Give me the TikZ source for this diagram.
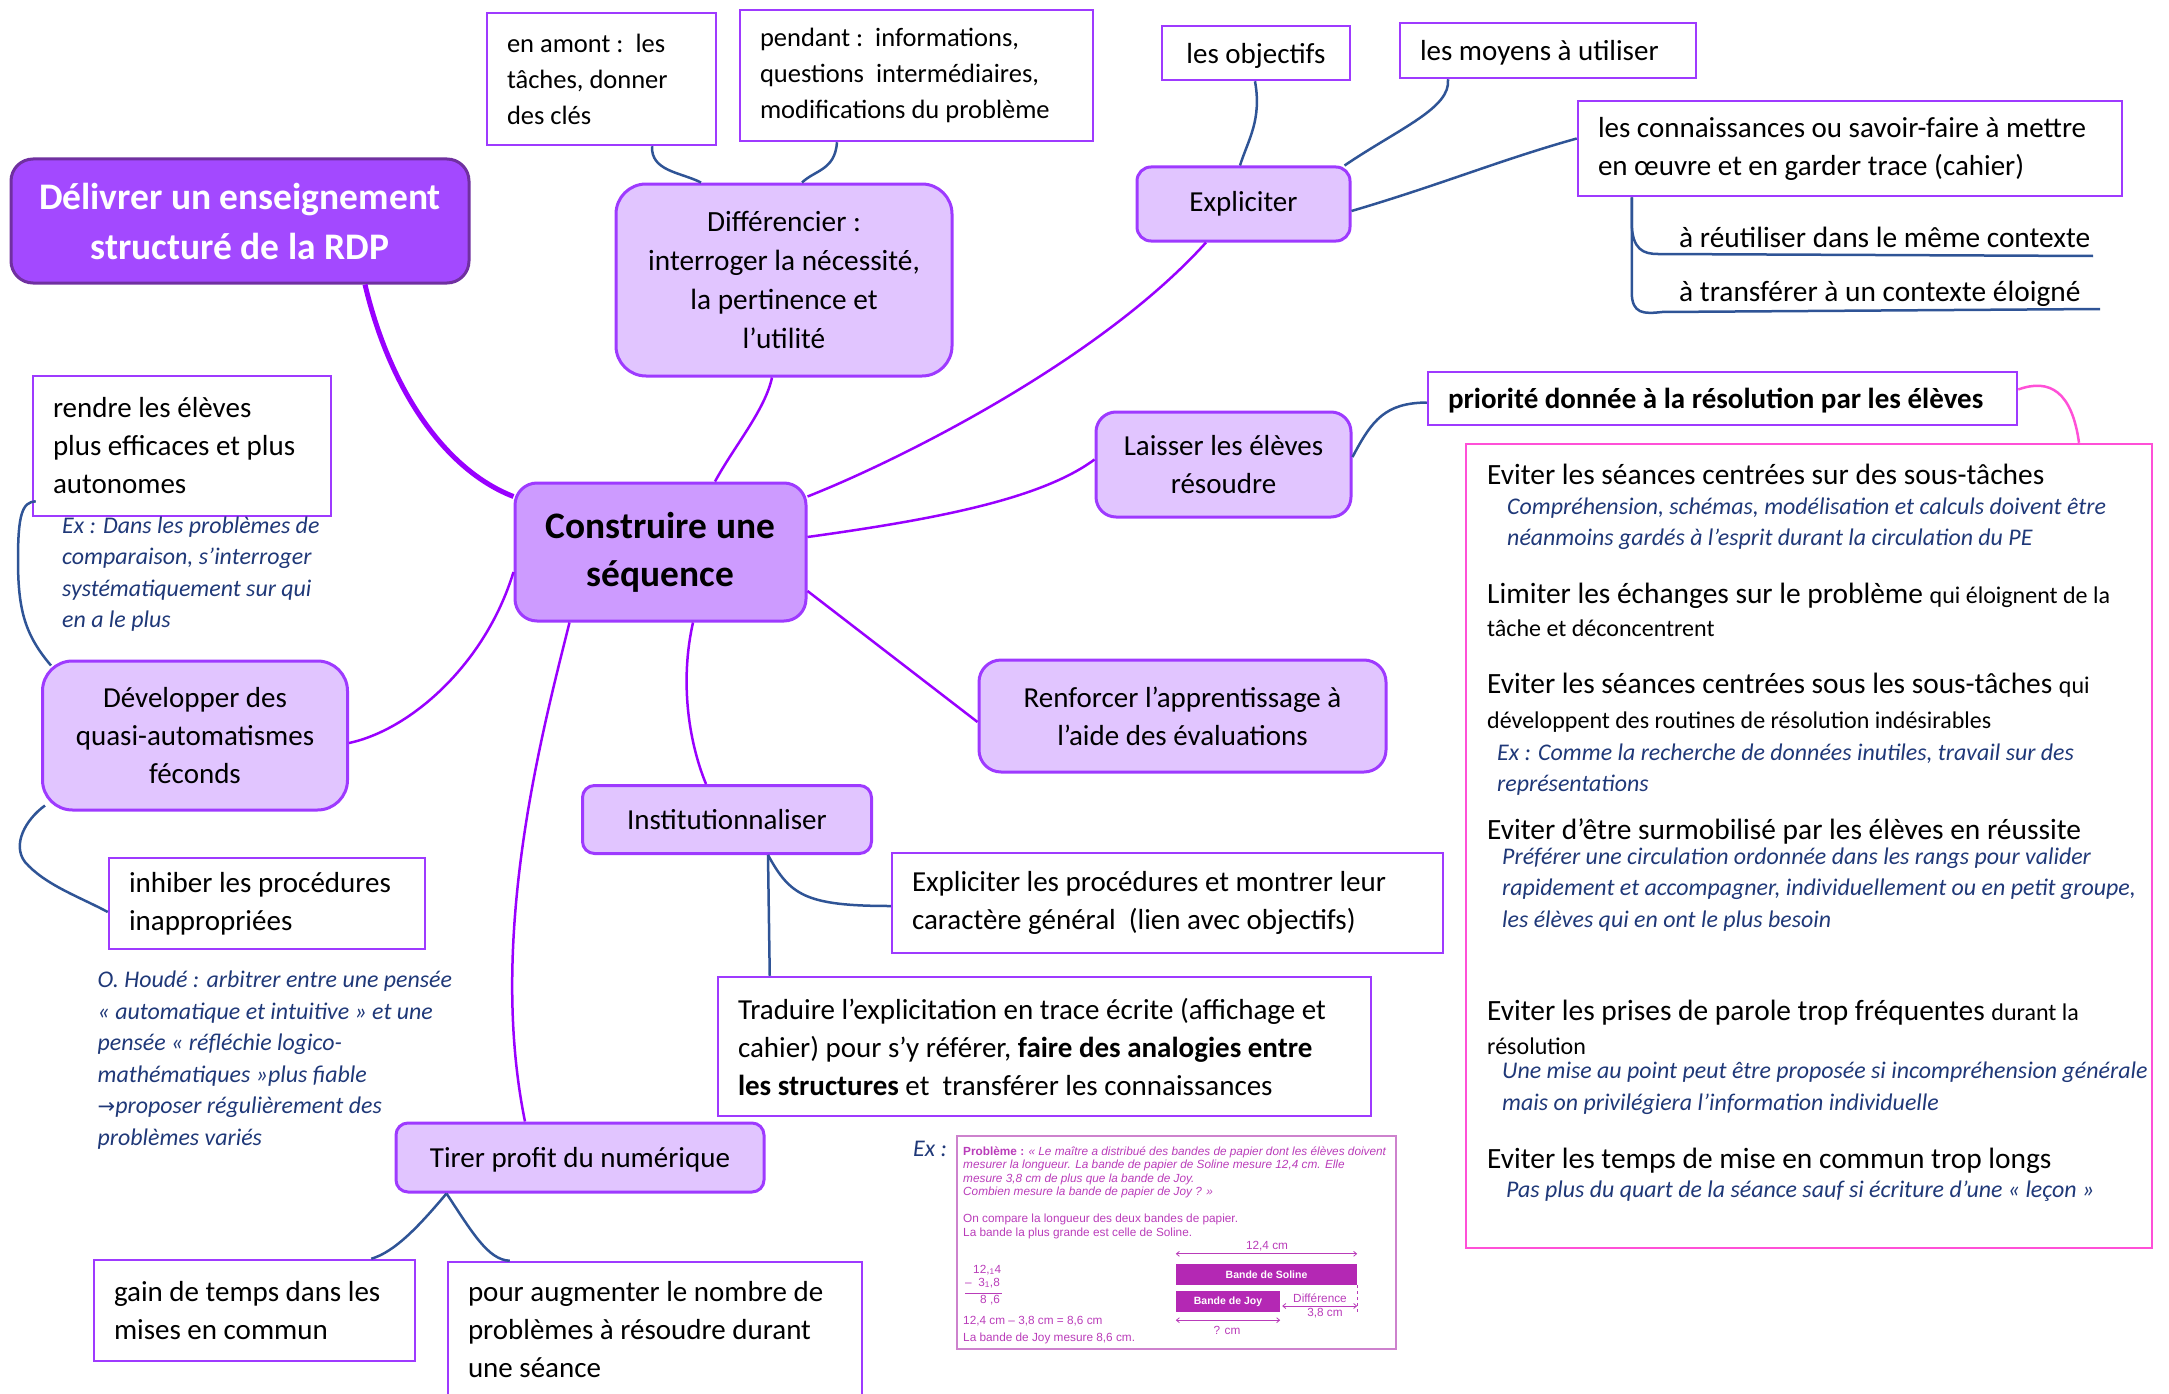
\documentclass[tikz,border=0pt]{standalone}
\usepackage{fontspec}
\setmainfont{Carlito}
\newfontfamily\symfont{DejaVu Sans}
\newfontfamily\exfont{Liberation Sans}
\usetikzlibrary{arrows.meta}

\definecolor{vio}{RGB}{153,0,255}
\definecolor{boxline}{RGB}{158,58,255}
\definecolor{lav}{RGB}{225,197,255}
\definecolor{midfill}{RGB}{205,155,255}
\definecolor{delfill}{RGB}{163,73,255}
\definecolor{delline}{RGB}{112,48,160}
\definecolor{bluel}{RGB}{47,84,150}
\definecolor{navyt}{RGB}{31,56,120}
\definecolor{pinkc}{RGB}{255,80,215}
\definecolor{exline}{RGB}{205,130,205}
\definecolor{exc}{RGB}{185,60,185}
\definecolor{exbar}{RGB}{180,40,180}

\newcommand\smtxt{\fontsize{24}{30}\selectfont}

\begin{document}
\begin{tikzpicture}[x=1pt,y=-1pt,
  roundbox/.style={draw=boxline, line width=3pt, fill=lav, rounded corners=#1,
    align=center, inner sep=0pt, font=\fontsize{29}{38}\selectfont},
  roundbox/.default=20pt,
  rectbox/.style={draw=boxline, line width=2.5pt, fill=white, align=flush left,
    inner xsep=20pt, inner ysep=0pt, font=\fontsize{29}{38}\selectfont},
  bigline/.style={font=\fontsize{29.4}{38}\selectfont, inner sep=0pt, anchor=base west},
  smline/.style={font=\smtxt, inner sep=0pt, anchor=base west},
  itnote/.style={font=\fontsize{23.9}{31}\selectfont\itshape, text=navyt, inner sep=0pt, anchor=base west},
  vline/.style={draw=vio, line width=2.5pt},
  bline/.style={draw=bluel, line width=2.5pt},
  pline/.style={draw=pinkc, line width=2.5pt},
  exfnt/.style={font=\fontsize{11.8}{14}\selectfont\exfont},
  exfntit/.style={font=\fontsize{11.8}{14}\selectfont\exfont\itshape},
  exstyle/.style={exfnt, text=exc, inner sep=0pt, anchor=base west},
  exbarstyle/.style={fill=exbar, minimum height=21pt, inner sep=0pt, text=white,
    font=\fontsize{10.5}{12}\selectfont\exfont\bfseries},
  dimarr/.style={draw=exc, line width=0.8pt, {Straight Barb[length=3pt,width=5pt]}-{Straight Barb[length=3pt,width=5pt]}},
]
\useasboundingbox (0,0) rectangle (2169,1394);

% ---------- main nodes ----------
\node[roundbox=22pt, fill=delfill, draw=delline, text=white,
  font=\fontsize{37.5}{50}\selectfont\bfseries, minimum width=458pt, minimum height=124pt]
  (deliv) at (240,221) {Délivrer un enseignement\\structuré de la RDP};

\node[roundbox=22pt, fill=midfill, font=\fontsize{37.4}{48}\selectfont\bfseries,
  minimum width=291pt, minimum height=138pt] (seq) at (660.5,552) {Construire une\\séquence};

\node[roundbox=30pt, font=\fontsize{29.3}{39}\selectfont, minimum width=336pt, minimum height=192pt]
  (diff) at (784,280) {Différencier :\\interroger la nécessité,\\la pertinence et\\l’utilité};

\node[rectbox, font=\fontsize{26.5}{36}\selectfont, text width=189pt, minimum height=132pt]
  (amont) at (601.5,79) {en amont :\ \ les\\tâches, donner\\des clés};
\node[rectbox, font=\fontsize{26.5}{36}\selectfont, text width=313pt, minimum height=131pt]
  (pendant) at (916.5,75.5) {pendant :\ \ informations,\\questions\ \ intermédiaires,\\modifications du problème};

\node[roundbox=14pt, minimum width=213pt, minimum height=74pt] (expl) at (1243.5,204) {Expliciter};
\node[rectbox, align=center, text depth=0pt, minimum width=188pt, minimum height=54pt] (obj) at (1256,53) {les objectifs};
\node[rectbox, text depth=0pt, text width=256pt, minimum height=55pt] (moyens) at (1548,50.5) {les moyens à utiliser};
\node[rectbox, text width=504pt, minimum height=95pt] (conn) at (1850,148.5)
  {les connaissances ou savoir-faire à mettre\\en œuvre et en garder trace (cahier)};
\node[bigline] (reut) at (1679,247) {à réutiliser dans le même contexte};
\node[bigline] (transf) at (1679,301) {à transférer à un contexte éloigné};
\coordinate (reutA) at (1658,254);
\coordinate (reutB) at (2093,256);
\coordinate (transA) at (1662,312);
\coordinate (transB) at (2100,309);

\node[roundbox=20pt, minimum width=255pt, minimum height=105pt] (laisser) at (1223.5,464.5)
  {Laisser les élèves\\résoudre};
\node[rectbox, font=\fontsize{29}{38}\selectfont\bfseries, text depth=0pt, text width=549pt, minimum height=53pt]
  (prio) at (1722.5,398.5) {priorité donnée à la résolution par les élèves};

\node[draw=pinkc, line width=2.5pt, minimum width=686pt, minimum height=804pt, inner sep=0pt]
  (pink) at (1809,846) {};

\node[roundbox=22pt, minimum width=407pt, minimum height=112pt] (renf) at (1182.5,716)
  {Renforcer l’apprentissage à\\l’aide des évaluations};
\node[roundbox=12pt, minimum width=289pt, minimum height=68pt] (instit) at (727,819.5) {Institutionnaliser};
\node[rectbox, text width=511pt, minimum height=100pt] (proc) at (1167.5,903)
  {Expliciter les procédures et montrer leur\\caractère général\ \ (lien avec objectifs)};
\node[rectbox, text width=613pt, minimum height=139pt] (trad) at (1044.5,1046.5)
  {Traduire l’explicitation en trace écrite (affichage et\\cahier) pour s’y référer, \textbf{faire des analogies entre}\\\textbf{les structures} et\ \ transférer les connaissances};

\node[roundbox=30pt, minimum width=305pt, minimum height=149pt] (dev) at (195,735.5)
  {Développer des\\quasi-automatismes\\féconds};
\node[rectbox, text width=258pt, minimum height=140pt] (rendre) at (182,446)
  {rendre les élèves\\plus efficaces et plus\\autonomes};
\node[rectbox, text width=276pt, minimum height=91pt] (inhib) at (267,903.5)
  {inhiber les procédures\\inappropriées};

\node[roundbox=12pt, text depth=0pt, minimum width=368pt, minimum height=69pt] (tirer) at (580,1157.5) {Tirer profit du numérique};
\node[rectbox, text width=281pt, minimum height=101pt] (gain) at (254.5,1310.5)
  {gain de temps dans les\\mises en commun};
\node[rectbox, text width=374pt, minimum height=136pt] (pour) at (655,1330)
  {pour augmenter le nombre de\\problèmes à résoudre durant\\une séance};

% ---------- italic notes ----------
\foreach \txt [count=\i] in {{Ex : Dans les problèmes de},{comparaison, s’interroger},{systématiquement sur qui},{en a le plus}}
  \node[itnote] (exr\i) at (62,{533+(\i-1)*31.5}) {\txt};

\foreach \txt [count=\i] in {{O. Houdé : arbitrer entre une pensée},{« automatique et intuitive » et une},{pensée « réfléchie logico-},{mathématiques »plus fiable},{{\upshape\symfont\fontsize{21}{31}\selectfont →}proposer régulièrement des},{problèmes variés}}
  \node[itnote] (houde\i) at (97.5,{987.5+(\i-1)*31.5}) {\txt};

% ---------- pink panel text ----------
\node[bigline] (pa) at (1487,484) {Eviter les séances centrées sur des sous-tâches};
\node[itnote] (pa1) at (1507,514) {Compréhension, schémas, modélisation et calculs doivent être};
\node[itnote] (pa2) at (1507,545) {néanmoins gardés à l’esprit durant la circulation du PE};
\node[bigline] (pb) at (1487,603) {Limiter les échanges sur le problème {\smtxt qui éloignent de la}};
\node[smline] (pb1) at (1487,636) {tâche et déconcentrent};
\node[bigline] (pc) at (1487,693) {Eviter les séances centrées sous les sous-tâches {\smtxt qui}};
\node[smline] (pc1) at (1487,728) {développent des routines de résolution indésirables};
\node[itnote] (pc2) at (1497,760) {Ex : Comme la recherche de données inutiles, travail sur des};
\node[itnote] (pc3) at (1497,791) {représentations};
\node[bigline] (pd) at (1487,839) {Eviter d’être surmobilisé par les élèves en réussite};
\node[itnote] (pd1) at (1502,864) {Préférer une circulation ordonnée dans les rangs pour valider};
\node[itnote] (pd2) at (1502,895) {rapidement et accompagner, individuellement ou en petit groupe,};
\node[itnote] (pd3) at (1502,927) {les élèves qui en ont le plus besoin};
\node[bigline] (pe) at (1487,1020) {Eviter les prises de parole trop fréquentes {\smtxt durant la}};
\node[smline] (pe1) at (1487,1054) {résolution};
\node[itnote] (pe2) at (1502,1078) {Une mise au point peut être proposée si incompréhension générale};
\node[itnote] (pe3) at (1502,1110) {mais on privilégiera l’information individuelle};
\node[bigline] (pf) at (1487,1168) {Eviter les temps de mise en commun trop longs};
\node[itnote] (pf1) at (1506,1197) {Pas plus du quart de la séance sauf si écriture d’une « leçon »};

% ---------- worked example ----------
\node[itnote] (exlabel) at (913,1156) {Ex :};
\node[draw=exline, line width=1.5pt, minimum width=439pt, minimum height=213pt, inner sep=0pt]
  (exbox) at (1176.5,1242.5) {};
\node[exstyle] (ex1) at (963,1155) {\textbf{Problème :} \textit{« Le maître a distribué des bandes de papier dont les élèves doivent}};
\node[exstyle, exfntit] (ex2) at (963,1168) {mesurer la longueur. La bande de papier de Soline mesure 12,4 cm. Elle};
\node[exstyle, exfntit] (ex3) at (963,1182) {mesure 3,8 cm de plus que la bande de Joy.};
\node[exstyle, exfntit] (ex4) at (963,1195) {Combien mesure la bande de papier de Joy ? »};
\node[exstyle] (ex5) at (963,1222) {On compare la longueur des deux bandes de papier.};
\node[exstyle] (ex6) at (963,1236) {La bande la plus grande est celle de Soline.};
\node[exbarstyle, minimum width=181pt] (soline) at (1266.5,1274.5) {Bande de Soline};
\node[exbarstyle, minimum width=104pt] (joy) at (1228,1301.5) {Bande de Joy};
\node[exstyle, anchor=base] (len) at (1267,1249) {12,4 cm};
\draw[dimarr] ([yshift=10pt]soline.north west) -- ([yshift=10pt]soline.north east);
\draw[dimarr] ([xshift=2pt,yshift=-4.5pt]joy.east) -- ++(75,0);
\draw[draw=exc, dashed, line width=0.8pt] (soline.south east) -- ++(0,27);
\draw[dimarr] ([yshift=-8pt]joy.south west) -- ([yshift=-8pt]joy.south east);
\node[exstyle, anchor=base] (diffl) at (1320,1302) {Différence};
\node[exstyle, anchor=base] (diffv) at (1325,1316) {3,8 cm};
\node[exstyle, anchor=base] (qcm) at (1227,1334) {? cm};
\node[exstyle] (sub1) at (973,1273) {12,\textsubscript{1}4};
\node[exstyle] (sub2) at (965,1286) {– \ 3\textsubscript{1},8};
\draw[draw=exc, line width=0.6pt] ([yshift=-7pt]sub2.base west) -- ++(37,0);
\node[exstyle] (sub3) at (980,1303) {8 ,6};
\node[exstyle] (eq) at (963,1324) {12,4 cm – 3,8 cm = 8,6 cm};
\node[exstyle] (res) at (963,1341) {La bande de Joy mesure 8,6 cm.};

% ---------- purple branches from the centre ----------
\draw[draw=vio, line width=5pt] ([xshift=125pt]deliv.south) .. controls (390,390) and (445,470) .. ([yshift=-15pt]seq.north west);
\draw[vline] ([xshift=54.5pt]seq.north) .. controls (735,445) and (765,410) .. ([xshift=-12pt]diff.south);
\draw[vline] ([yshift=-15pt]seq.north east) .. controls (900,460) and (1100,360) .. ([xshift=-37.5pt]expl.south);
\draw[vline] ([yshift=15pt]seq.east) .. controls (930,520) and (1040,500) .. ([yshift=5pt]laisser.west);
\draw[vline] ([yshift=-39pt]seq.east) -- ([yshift=-6pt]renf.west);
\draw[vline] ([xshift=32.5pt]seq.south) .. controls (680,680) and (688,740) .. ([xshift=-21pt]instit.north);
\draw[vline] ([xshift=56pt]seq.south west) .. controls (540,740) and (488,940) .. ([xshift=-55pt]tirer.north);
\draw[vline] ([yshift=-20pt]seq.west) .. controls (485,665) and (410,730) .. ([yshift=-7.5pt]dev.east);

% ---------- blue sub-branches ----------
\draw[bline] ([xshift=50.5pt]amont.south) .. controls +(-1,25) and (680,172) .. ([xshift=-83pt]diff.north);
\draw[bline] ([xshift=-79.5pt]pendant.south) .. controls +(-2,28) and (815,170) .. ([xshift=18pt]diff.north);
\draw[bline] ([xshift=-1pt]obj.south) .. controls (1262,120) and (1248,140) .. ([xshift=-3.5pt]expl.north);
\draw[bline] ([xshift=-100pt]moyens.south) .. controls (1451,108) and (1400,128) .. ([xshift=101pt]expl.north);
\draw[bline] ([yshift=-7pt]expl.east) .. controls (1440,185) and (1500,160) .. ([yshift=10pt]conn.west);
\draw[bline] ([xshift=55pt]conn.south west) -- ++(0,25) .. controls +(0,28) and +(-14,0) .. (reutA) -- (reutB);
\draw[bline] ([xshift=55pt]conn.south west) -- ++(0,95) .. controls +(0,22) and +(-18,2) .. (transA) -- (transB);
\draw[bline] ([yshift=7.5pt]laisser.east) .. controls (1372,420) and (1385,403) .. ([yshift=-4pt]prio.west);
\draw[pline] ([yshift=9pt]prio.east) .. controls (2050,378) and (2072,392) .. ([xshift=270pt]pink.north);
\draw[bline] ([xshift=41pt]instit.south) .. controls (790,895) and (805,906) .. ([yshift=-3pt]proc.west);
\draw[bline] ([xshift=41pt]instit.south) -- ([xshift=53pt]trad.north west);
\draw[bline] ([xshift=4pt,yshift=16pt]rendre.south west) .. controls (22,502) and (18,515) .. (18,560)
  .. controls (18,610) and (25,635) .. ([xshift=10pt,yshift=-6pt]dev.north west);
\draw[bline] ([xshift=4pt,yshift=6pt]dev.south west) .. controls (25,820) and (12,845) .. (25,862)
  .. controls (45,885) and (80,897) .. ([yshift=-8.5pt]inhib.west);
\draw[bline] ([xshift=52pt]tirer.south west) .. controls (420,1225) and (395,1252) .. ([xshift=-45pt]gain.north east);
\draw[bline] ([xshift=52pt]tirer.south west) .. controls (472,1232) and (488,1260) .. ([xshift=63pt]pour.north west);
\end{tikzpicture}
\end{document}
